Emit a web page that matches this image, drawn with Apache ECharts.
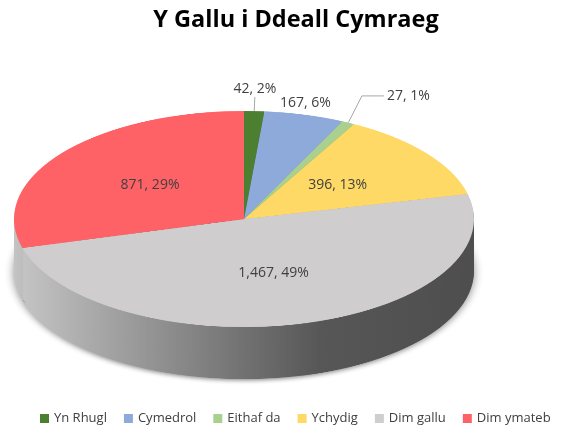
<!DOCTYPE html>
<html lang="cy">
  <head>
    <meta charset="UTF-8" />
    <title>Y Gallu i Ddeall Cymraeg</title>
    <script src="https://cdn.jsdelivr.net/npm/echarts@6/dist/echarts.min.js"></script>
    <style>
      html, body { margin: 0; padding: 0; background: #fff; }
      #wrap { position: relative; width: 566px; height: 427px; overflow: hidden; }
      /* the disc is drawn as a circle and squashed into an ellipse */
      #disc { position: absolute; left: 0; top: 0; width: 566px; transform-origin: 0 0; }
      #front { position: absolute; left: 0; top: 0; width: 566px; height: 427px; }
    </style>
  </head>
  <body>
    <div id="wrap">
      <div id="disc"></div>
      <div id="front"></div>
    </div>
    <script>
      // data
      const categories = ["Yn Rhugl", "Cymedrol", "Eithaf da", "Ychydig", "Dim gallu", "Dim ymateb"];
      const values = [42, 167, 27, 396, 1467, 871];
      const labelTexts = ["42, 2%", "167, 6%", "27, 1%", "396, 13%", "1,467, 49%", "871, 29%"];

      const topColors = ["#4d7f31", "#8eaadb", "#a9d08e", "#ffd966", "#cfcdce", "#ff6266"];
      // null = grey shaded wall
      const sideColors = ["#35591f", "#5f7bab", "#7da463", "#c9a63a", null, null];

      // geometry of the ellipse on screen
      const CX = 244, CY = 219, R = 230;
      const K = 0.47;        // vertical squash
      const DEPTH = 52;      // wall height in px on screen
      const LAYERS = 26;

      const font = "'Open Sans', 'Liberation Sans', sans-serif";

      // ---- back layer: the 3d disc
      const discEl = document.getElementById("disc");
      discEl.style.height = Math.ceil(427 / K) + "px";
      discEl.style.transform = "scaleY(" + K + ")";
      const disc = echarts.init(discEl);

      const wallGradient = {
        type: "linear", x: 0, y: 0, x2: 1, y2: 0,
        colorStops: [
          { offset: 0, color: "#c4c4c4" },
          { offset: 0.2, color: "#a2a2a2" },
          { offset: 0.5, color: "#707070" },
          { offset: 0.66, color: "#575757" },
          { offset: 1, color: "#4e4e4e" }
        ]
      };

      function pieData(colorFor) {
        return categories.map((name, i) => ({
          name: name,
          value: values[i],
          itemStyle: { color: colorFor(i) }
        }));
      }

      const discSeries = [];
      for (let l = LAYERS; l >= 1; l--) {
        const s = {
          type: "pie",
          silent: true,
          animation: false,
          center: [CX, (CY + (DEPTH * l) / LAYERS) / K],
          radius: R,
          label: { show: false },
          labelLine: { show: false },
          data: pieData(i => (sideColors[i] ? sideColors[i] : wallGradient))
        };
        if (l === LAYERS) {
          s.itemStyle = { shadowBlur: 10, shadowColor: "rgba(0,0,0,0.45)", shadowOffsetY: 3 };
        }
        discSeries.push(s);
      }
      discSeries.push({
        type: "pie",
        silent: true,
        animation: false,
        center: [CX, CY / K],
        radius: R,
        label: { show: false },
        labelLine: { show: false },
        data: pieData(i => topColors[i])
      });
      disc.setOption({ animation: false, series: discSeries });

      // ---- front layer: title, labels, legend
      const front = echarts.init(document.getElementById("front"));
      const squash = y => CY + (y - CY) * K;

      // small slices get outside labels
      const outsideCfg = {
        0: { length: 14, length2: 0, show: true },
        1: { length: 4, length2: 0, show: false },
        2: { length: 30, length2: 22, show: true }
      };

      front.setOption({
        animation: false,
        title: {
          text: "Y Gallu i Ddeall Cymraeg",
          left: 291,
          textAlign: "center",
          top: 3,
          textStyle: { fontFamily: font, fontSize: 23.5, fontWeight: "bold", color: "#000" }
        },
        legend: {
          top: 407,
          left: 35,
          icon: "rect",
          itemWidth: 9,
          itemHeight: 9,
          itemGap: 17,
          textStyle: { fontFamily: font, fontSize: 13, color: "#404040" },
          data: categories.map((n, i) => ({ name: n, itemStyle: { color: topColors[i] } }))
        },
        series: [{
          type: "pie",
          center: [CX, CY],
          radius: R,
          avoidLabelOverlap: false,
          emphasis: { disabled: true },
          itemStyle: { color: "rgba(0,0,0,0)" },
          label: {
            fontFamily: font,
            fontSize: 14,
            color: "#404040",
            formatter: p => labelTexts[p.dataIndex]
          },
          labelLine: { show: false },
          data: categories.map((name, i) => {
            const o = outsideCfg[i];
            const d = { name: name, value: values[i] };
            if (o) {
              d.label = { position: "outside" };
              d.labelLine = {
                show: true, length: o.length, length2: o.length2,
                lineStyle: { color: o.show ? "#a6a6a6" : "rgba(0,0,0,0)", width: 1 }
              };
            } else {
              d.label = { position: "inside" };
            }
            return d;
          }),
          labelLayout: function (p) {
            const r = p.labelRect;
            const pts = p.labelLinePoints;
            const mx = r.x + r.width / 2, my = r.y + r.height / 2;
            if (!pts || Math.hypot(mx - CX, my - CY) < R) {
              return { x: mx, y: squash(my), align: "center", verticalAlign: "middle" };
            }
            const dy = squash(pts[0][1]) - pts[0][1];
            const moved = pts.map(q => [q[0], q[1] + dy]);
            const end = moved[moved.length - 1];
            const prev = moved[moved.length - 2];
            if (Math.hypot(end[0] - prev[0], end[1] - prev[1]) < 1) {
              // no horizontal tail: put the text centred above the line
              return {
                x: end[0], y: end[1] - 1, align: "center", verticalAlign: "bottom",
                labelLinePoints: moved
              };
            }
            return { x: end[0] + 3, y: end[1], align: "left", verticalAlign: "middle", labelLinePoints: moved };
          }
        }]
      });
    </script>
  </body>
</html>
